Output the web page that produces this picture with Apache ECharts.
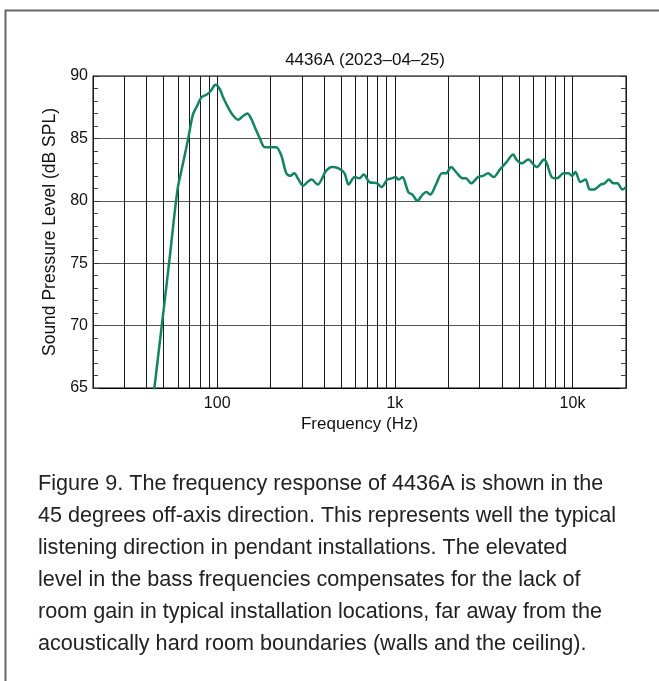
<!DOCTYPE html>
<html>
<head>
<meta charset="utf-8">
<title>4436A frequency response</title>
<script src="https://cdn.jsdelivr.net/npm/echarts@6/dist/echarts.min.js"></script>
<style>
  html, body { margin: 0; padding: 0; background: #fff; }
  #main { width: 659px; height: 681px; }
</style>
</head>
<body>
<div id="main"></div>
<script>
// frequency response, 45 deg off-axis
var freqHz = [42, 49.8, 54.2, 59.8, 64, 68.7, 73, 77, 81.6, 87, 92, 97.8, 103, 108, 115, 122, 131, 140, 148, 155, 163, 175, 185, 200, 215, 230,
  245, 258, 271, 287, 305, 322, 340, 368, 390, 405, 441, 482, 521, 549, 594, 631, 668, 719, 795, 841, 906, 960, 1010, 1050, 1102,
  1191, 1256, 1340, 1432, 1508, 1581, 1703, 1842, 1940, 2072, 2210, 2413, 2510, 2692, 2933, 3132, 3342, 3597, 3896, 4250, 4635,
  4836, 5166, 5634, 6285, 6918, 7160, 7640, 8170, 8900, 9500, 9930, 10380, 11080, 11820, 12510, 13180, 14390, 15150, 16030,
  16950, 17870, 19070, 20000];
var splDb = [62.2, 71.1, 75.6, 80.9, 82.9, 85.0, 86.9, 87.6, 88.3, 88.5, 88.8, 89.3, 89.0, 88.3, 87.5, 86.9, 86.5, 86.8, 87.0, 86.6, 85.9, 84.9, 84.3, 84.3, 84.3, 83.6,
  82.2, 82.0, 82.2, 81.7, 81.2, 81.5, 81.7, 81.3, 81.8, 82.3, 82.7, 82.6, 82.2, 81.3, 81.9, 81.8, 82.1, 81.5, 81.4, 81.1, 81.7, 81.8, 81.9, 81.7, 81.9,
  80.7, 80.5, 80.0, 80.5, 80.7, 80.5, 81.3, 82.2, 82.2, 82.7, 82.3, 81.8, 81.8, 81.4, 81.9, 82.0, 82.2, 81.9, 82.5, 83.1, 83.7,
  83.3, 83.0, 83.3, 82.7, 83.3, 83.0, 81.9, 81.8, 82.2, 82.2, 82.0, 82.3, 81.5, 81.7, 80.9, 80.9, 81.3, 81.4, 81.7,
  81.4, 81.4, 80.9, 81.1];

var gridFreqs = [20, 30, 40, 50, 60, 70, 80, 90, 100, 200, 300, 400, 500, 600, 700, 800, 900, 1000,
  2000, 3000, 4000, 5000, 6000, 7000, 8000, 9000, 10000, 20000];
var tickNames = { 100: '100', 1000: '1k', 10000: '10k' };

var chartTitle = '4436A (2023\u201304\u201325)';
var caption = [
  'Figure 9. The frequency response of 4436A is shown in the',
  '45 degrees off-axis direction. This represents well the typical',
  'listening direction in pendant installations. The elevated',
  'level in the bass frequencies compensates for the lack of',
  'room gain in typical installation locations, far away from the',
  'acoustically hard room boundaries (walls and the ceiling).'
];

var FONT = 'Liberation Sans, Arial, sans-serif';
var myChart = echarts.init(document.getElementById('main'));

var points = freqHz.map(function (f, i) { return [f, splDb[i]]; });

var option = {
  backgroundColor: '#fff',
  animation: false,
  textStyle: { fontFamily: FONT },
  title: {
    text: chartTitle,
    left: 360,
    top: 47,
    textAlign: 'center',
    textStyle: { fontSize: 17, fontWeight: 'normal', color: '#111', fontFamily: FONT }
  },
  grid: {
    left: 93, top: 76, right: 33, bottom: 293,
    show: true, borderColor: '#000', borderWidth: 1, backgroundColor: 'transparent'
  },
  xAxis: {
    type: 'log',
    logBase: 10,
    min: 20,
    max: 20000,
    name: 'Frequency (Hz)',
    nameLocation: 'middle',
    nameGap: 28,
    nameTextStyle: { fontSize: 17, color: '#111', fontFamily: FONT },
    axisLine: { lineStyle: { color: '#000', width: 1 } },
    axisTick: { show: false },
    splitLine: { show: false },
    axisLabel: {
      color: '#111', fontSize: 16, margin: 8, fontFamily: FONT,
      showMinLabel: false, showMaxLabel: false,
      formatter: function (v) { return tickNames[Math.round(v)] || ''; }
    }
  },
  yAxis: [{
    type: 'value',
    min: 65, max: 90, interval: 5,
    name: 'Sound Pressure Level (dB SPL)',
    nameLocation: 'middle',
    nameGap: 32,
    nameTextStyle: { fontSize: 17.5, color: '#111', fontFamily: FONT },
    axisLine: { show: true, lineStyle: { color: '#000' } },
    axisTick: { show: true, inside: true, length: 6, lineStyle: { color: '#333' } },
    minorTick: { show: true, splitNumber: 5, length: 5, lineStyle: { color: '#444' } },
    splitLine: { show: true, lineStyle: { color: '#555', width: 1 } },
    axisLabel: { color: '#111', fontSize: 16, margin: 5, fontFamily: FONT }
  }, {
    type: 'value',
    position: 'right',
    min: 65, max: 90, interval: 5,
    axisLine: { show: true, lineStyle: { color: '#000' } },
    axisTick: { show: true, inside: true, length: 6, lineStyle: { color: '#333' } },
    minorTick: { show: true, splitNumber: 5, length: 5, lineStyle: { color: '#444' } },
    splitLine: { show: false },
    axisLabel: { show: false }
  }],
  series: [{
    // vertical grid lines at 20, 30 ... 20k
    type: 'line',
    data: [],
    silent: true,
    z: 1,
    markLine: {
      silent: true,
      symbol: 'none',
      label: { show: false },
      lineStyle: { color: '#1a1a1a', width: 1, type: 'solid' },
      data: gridFreqs.map(function (f) { return { xAxis: f }; })
    }
  }, {
    name: '4436A',
    type: 'line',
    data: points,
    showSymbol: false,
    smooth: 0.3,
    z: 5,
    clip: true,
    lineStyle: { color: '#138462', width: 2.5 }
  }],
  graphic: [{
    type: 'rect',
    left: 3, top: 8,
    shape: { width: 700, height: 700 },
    style: { fill: 'none', stroke: '#666', lineWidth: 2 },
    silent: true
  }, {
    type: 'text',
    left: 38,
    top: 468,
    style: {
      text: caption.join('\n'),
      font: '21.6px ' + FONT,
      fill: '#222',
      lineHeight: 32
    }
  }]
};

myChart.setOption(option);
</script>
</body>
</html>
